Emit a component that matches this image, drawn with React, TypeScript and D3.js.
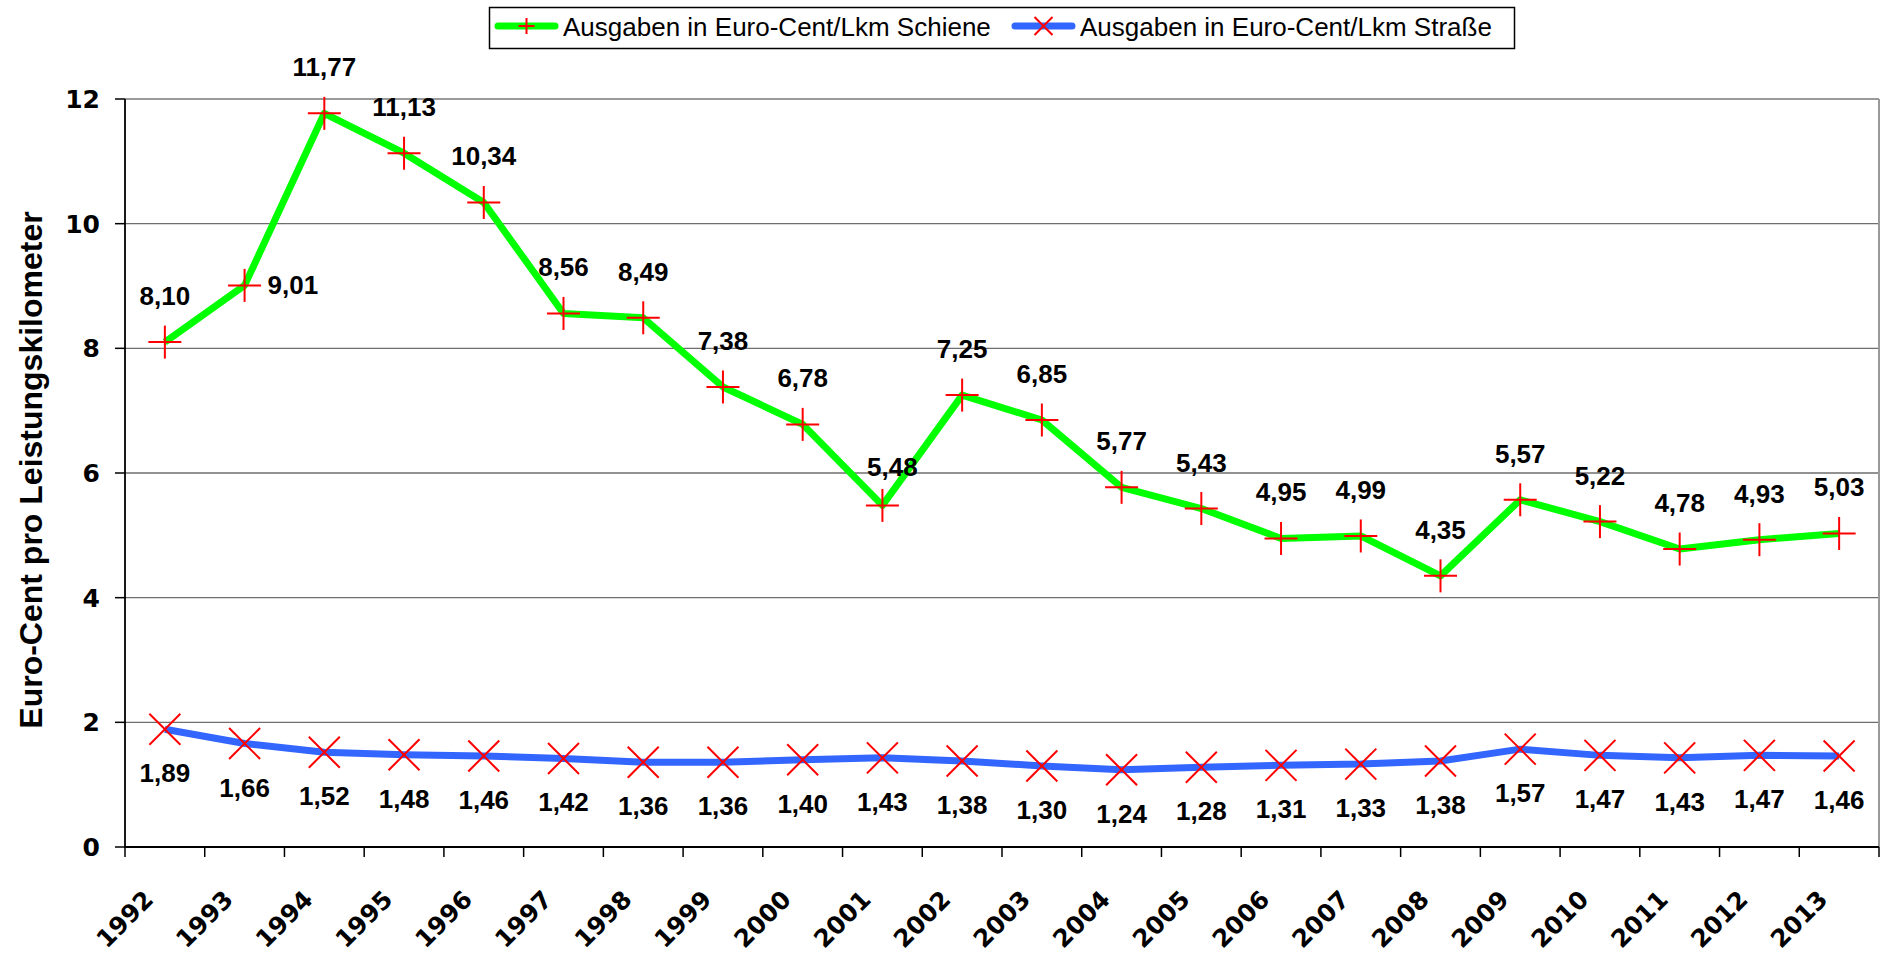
import React from "react";
import * as d3 from "d3";

const years: string[] = [
  "1992", "1993", "1994", "1995", "1996", "1997", "1998", "1999", "2000", "2001", "2002",
  "2003", "2004", "2005", "2006", "2007", "2008", "2009", "2010", "2011", "2012", "2013",
];
const schiene: number[] = [
  8.10, 9.01, 11.77, 11.13, 10.34, 8.56, 8.49, 7.38, 6.78, 5.48, 7.25,
  6.85, 5.77, 5.43, 4.95, 4.99, 4.35, 5.57, 5.22, 4.78, 4.93, 5.03,
];
const strasse: number[] = [
  1.89, 1.66, 1.52, 1.48, 1.46, 1.42, 1.36, 1.36, 1.40, 1.43, 1.38,
  1.30, 1.24, 1.28, 1.31, 1.33, 1.38, 1.57, 1.47, 1.43, 1.47, 1.46,
];
const yTicks: number[] = [0, 2, 4, 6, 8, 10, 12];
const seriesNames: string[] = [
  "Ausgaben in Euro-Cent/Lkm Schiene",
  "Ausgaben in Euro-Cent/Lkm Straße",
];
const yTitle = "Euro-Cent pro Leistungskilometer";

const W = 1883;
const H = 955;
const FONT = "'Liberation Sans', Arial, Helvetica, sans-serif";
const AXFONT = "'DejaVu Sans', Verdana, sans-serif";
const GREEN = "#00ff00";
const BLUE = "#3366ff";
const RED = "#ff0000";

const fmt = (v: number) => v.toFixed(2).replace(".", ",");

export default function App() {
  const x = d3.scaleBand<string>().domain(years).range([125, 1879]).padding(0);
  const y = d3.scaleLinear().domain([0, 12]).range([847, 99]);
  const cx = (yr: string) => (x(yr) as number) + x.bandwidth() / 2;
  const line = d3
    .line<number>()
    .x((_, i) => cx(years[i]))
    .y((d) => y(d));

  const [x0, x1] = x.range();
  const tickXs = years.map((yr) => x(yr) as number).concat([x1]);

  const plus = (px: number, py: number, r: number, key: string) => (
    <g key={key} stroke={RED} strokeWidth={2}>
      <line x1={px - r} x2={px + r} y1={py} y2={py} />
      <line x1={px} x2={px} y1={py - r} y2={py + r} />
    </g>
  );
  const cross = (px: number, py: number, r: number, key: string) => (
    <g key={key} stroke={RED} strokeWidth={2}>
      <line x1={px - r} x2={px + r} y1={py - r} y2={py + r} />
      <line x1={px - r} x2={px + r} y1={py + r} y2={py - r} />
    </g>
  );

  return (
    <svg
      width={W}
      height={H}
      style={{ position: "fixed", left: 0, top: 0, background: "#fff" }}
      fontFamily={FONT}
    >
      <rect x={0} y={0} width={W} height={H} fill="#fff" />

      {/* gridlines */}
      {yTicks.filter((t) => t > 0 && t < 12).map((t) => (
        <line key={"g" + t} x1={x0} x2={x1} y1={y(t)} y2={y(t)} stroke="#6e6e6e" strokeWidth={1.3} />
      ))}
      {/* plot area border top/right */}
      <line x1={x0} x2={x1} y1={y(12)} y2={y(12)} stroke="#9a9a9a" strokeWidth={2} />
      <line x1={x1} x2={x1} y1={y(12)} y2={y(0)} stroke="#9a9a9a" strokeWidth={2} />

      {/* axes */}
      <line x1={x0} x2={x0} y1={y(12)} y2={y(0)} stroke="#000" strokeWidth={1.8} />
      <line x1={x0} x2={x1} y1={y(0)} y2={y(0)} stroke="#000" strokeWidth={1.8} />
      {yTicks.map((t) => (
        <line key={"yt" + t} x1={x0 - 10} x2={x0} y1={y(t)} y2={y(t)} stroke="#000" strokeWidth={1.5} />
      ))}
      {tickXs.map((tx, i) => (
        <line key={"xt" + i} x1={tx} x2={tx} y1={y(0)} y2={y(0) + 10} stroke="#000" strokeWidth={1.5} />
      ))}

      {/* y tick labels */}
      {yTicks.map((t) => (
        <text key={"yl" + t} x={100} y={y(t)} dy="0.36em" textAnchor="end" fontSize={25} fontWeight="bold" fontFamily={AXFONT}>
          {t}
        </text>
      ))}

      {/* y title */}
      <text
        transform={`translate(42, ${(y(0) + y(12)) / 2 - 3}) rotate(-90)`}
        textAnchor="middle"
        fontSize={32}
        fontWeight="bold"
      >
        {yTitle}
      </text>

      {/* x labels */}
      {years.map((yr) => (
        <text
          key={"xl" + yr}
          transform={`translate(${cx(yr) - 10}, ${y(0) + 54}) rotate(-45)`}
          textAnchor="end"
          fontSize={24.5}
          fontWeight="bold"
          fontFamily={AXFONT}
        >
          {yr}
        </text>
      ))}

      {/* series lines */}
      <path d={line(strasse) || ""} fill="none" stroke={BLUE} strokeWidth={7} strokeLinejoin="round" />
      <path d={line(schiene) || ""} fill="none" stroke={GREEN} strokeWidth={7} strokeLinejoin="round" />

      {/* markers */}
      {strasse.map((v, i) => cross(cx(years[i]), y(v), 15.5, "c" + i))}
      {schiene.map((v, i) => plus(cx(years[i]), y(v), 16.5, "p" + i))}

      {/* data labels */}
      {schiene.map((v, i) => {
        const px = cx(years[i]);
        const py = y(v);
        let lx = px;
        let ly = py - 37;
        let anchor: "middle" | "start" = "middle";
        if (i === 1) {
          lx = px + 23;
          ly = py + 9;
          anchor = "start";
        } else if (i === 9) {
          lx = px + 10;
          ly = py - 29;
        }
        return (
          <text key={"ls" + i} x={lx} y={ly} textAnchor={anchor} fontSize={26} fontWeight="bold">
            {fmt(v)}
          </text>
        );
      })}
      {strasse.map((v, i) => (
        <text key={"lr" + i} x={cx(years[i])} y={y(v) + 53} textAnchor="middle" fontSize={26} fontWeight="bold">
          {fmt(v)}
        </text>
      ))}

      {/* legend */}
      <rect x={489.5} y={7.5} width={1025} height={41} fill="#fff" stroke="#000" strokeWidth={1.5} />
      <line x1={498} x2={555} y1={26} y2={26} stroke={GREEN} strokeWidth={7} strokeLinecap="round" />
      {plus(526.5, 26, 8, "legp")}
      <text x={563} y={36} fontSize={26}>{seriesNames[0]}</text>
      <line x1={1015} x2={1072} y1={26} y2={26} stroke={BLUE} strokeWidth={7} strokeLinecap="round" />
      {cross(1043.5, 26, 9, "legc")}
      <text x={1080} y={36} fontSize={26}>{seriesNames[1]}</text>
    </svg>
  );
}
